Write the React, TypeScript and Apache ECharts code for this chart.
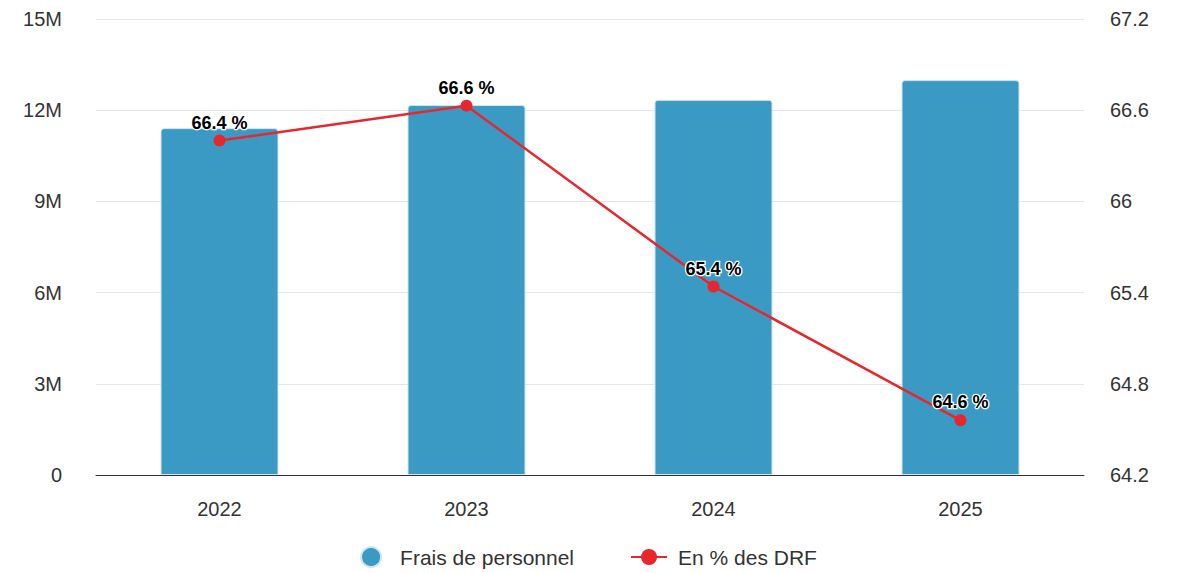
import React, { useEffect, useRef } from "react";
import * as echarts from "echarts";

const categories = ["2022", "2023", "2024", "2025"];
const fraisPersonnel = [11410000, 12170000, 12340000, 12990000];
const pctDRF = [66.4, 66.63, 65.44, 64.56];
const seriesNames = ["Frais de personnel", "En % des DRF"];

export default function App() {
  const ref = useRef<HTMLDivElement>(null);
  useEffect(() => {
    if (!ref.current) return;
    const chart = echarts.init(ref.current, undefined, { renderer: "svg" });
    const font = "Liberation Sans, Arial, sans-serif";
    chart.setOption({
      animation: false,
      textStyle: { fontFamily: font },
      grid: { left: 96, right: 93, top: 19, bottom: 98, containLabel: false },
      legend: {
        bottom: 0,
        left: "center",
        itemGap: 56,
        itemWidth: 36,
        itemHeight: 20,
        textStyle: { fontSize: 21, color: "#333", fontFamily: font, padding: [0, 0, 0, 6] },
        data: [
          { name: seriesNames[0], icon: "circle" },
          { name: seriesNames[1] },
        ],
      },
      xAxis: {
        type: "category",
        data: categories,
        axisLine: { lineStyle: { color: "#333", width: 1 } },
        axisTick: { alignWithLabel: true, length: 10, lineStyle: { color: "#333" } },
        axisLabel: { fontSize: 20, color: "#333", margin: 24, fontFamily: font },
      },
      yAxis: [
        {
          type: "value",
          min: 0,
          max: 15000000,
          interval: 3000000,
          axisLine: { show: false },
          axisTick: { show: false },
          splitLine: { lineStyle: { color: "#e6e6e6", width: 1 } },
          axisLabel: {
            fontSize: 20,
            color: "#333",
            margin: 34,
            fontFamily: font,
            formatter: (v: number) => (v === 0 ? "0" : v / 1000000 + "M"),
          },
        },
        {
          type: "value",
          min: 64.2,
          max: 67.2,
          interval: 0.6,
          axisLine: { show: false },
          axisTick: { show: false },
          splitLine: { show: false },
          axisLabel: {
            fontSize: 20,
            color: "#333",
            margin: 26,
            fontFamily: font,
            formatter: (v: number) => String(parseFloat(v.toFixed(1))),
          },
        },
      ],
      series: [
        {
          name: seriesNames[0],
          type: "bar",
          data: fraisPersonnel,
          barWidth: 118,
          itemStyle: {
            color: "#3a9ac4",
            borderRadius: [3, 3, 0, 0],
            borderColor: "#cfe6f1",
            borderWidth: 1,
          },
        },
        {
          name: seriesNames[1],
          type: "line",
          yAxisIndex: 1,
          data: pctDRF,
          symbol: "circle",
          symbolSize: 12,
          lineStyle: { color: "#e8262d", width: 2.5 },
          itemStyle: { color: "#e8262d" },
          label: {
            show: true,
            position: "top",
            distance: 3,
            fontSize: 18,
            fontWeight: "bold",
            color: "#000",
            textBorderColor: "#fff",
            textBorderWidth: 2.5,
            fontFamily: font,
            formatter: (p: any) => p.value.toFixed(1) + " %",
          },
          z: 5,
        },
      ],
    });
    return () => chart.dispose();
  }, []);
  return (
    <div
      ref={ref}
      style={{ position: "fixed", left: 0, top: 0, width: 1177, height: 573, background: "#fff" }}
    />
  );
}
